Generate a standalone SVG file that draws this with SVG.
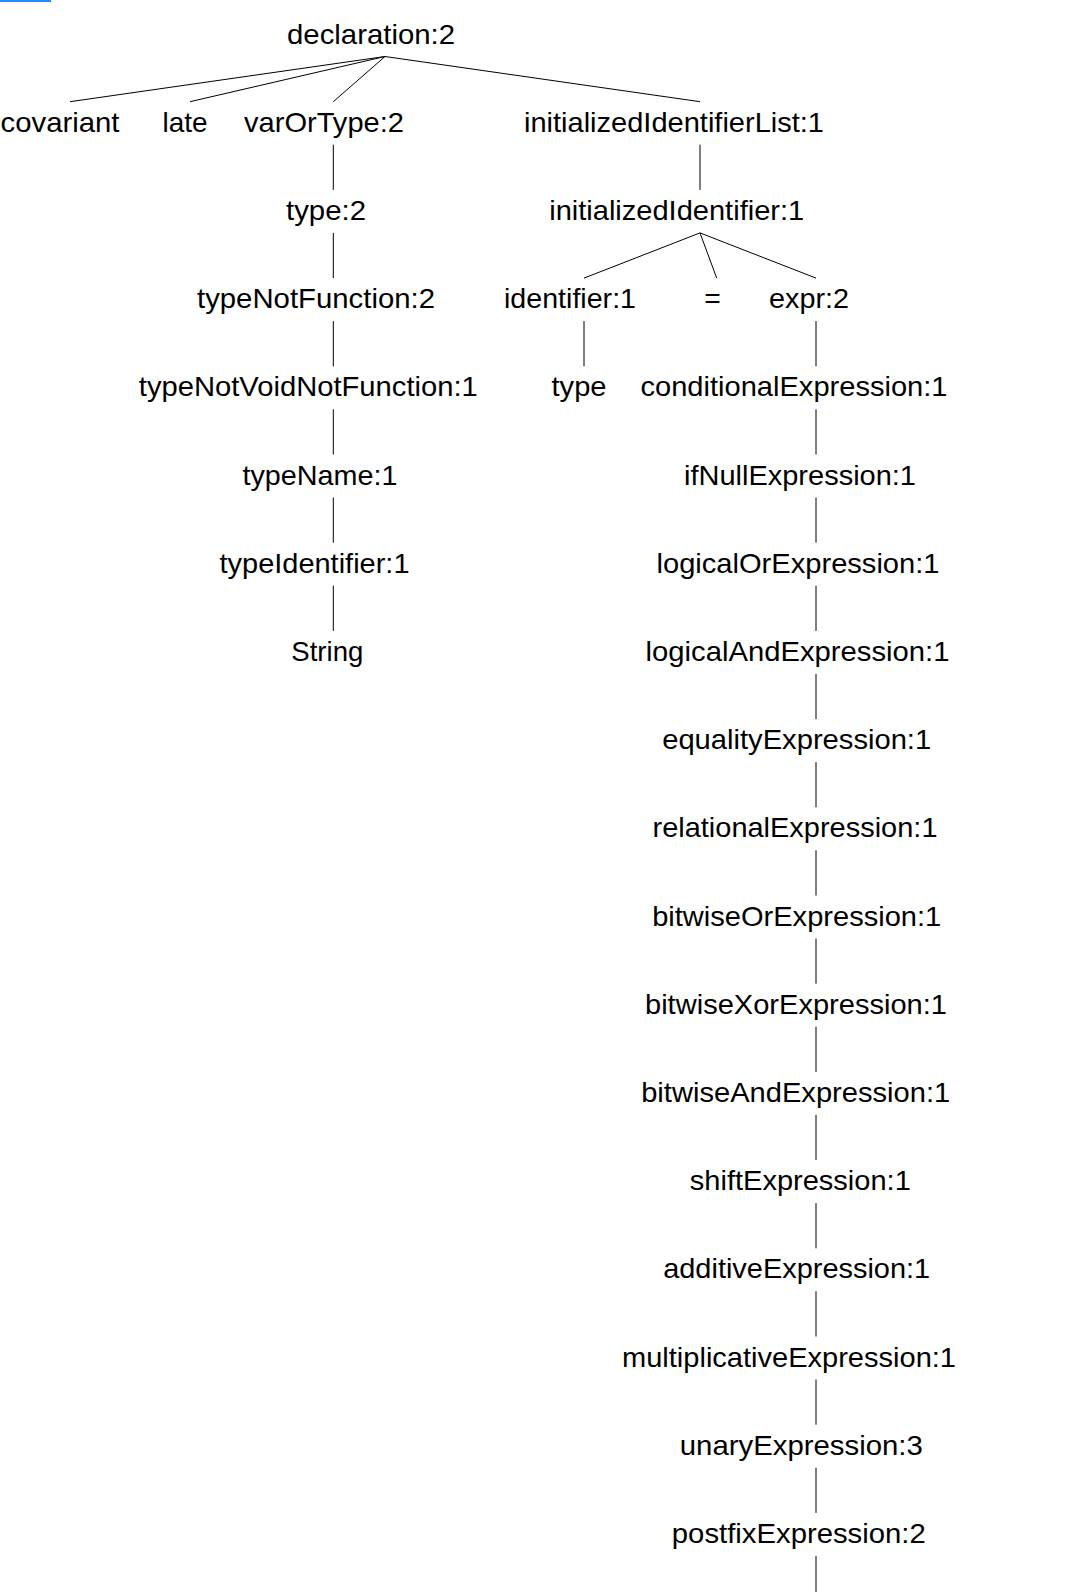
<svg xmlns="http://www.w3.org/2000/svg" width="1072" height="1592" viewBox="0 0 1072 1592">
<style>
text{font-family:"Liberation Sans",Arial,Helvetica,sans-serif;font-size:28.3px;fill:#000;text-anchor:middle}
.e line{stroke:#000;stroke-width:1}
</style>
<rect x="0" y="0" width="1072" height="1592" fill="#fff"/>
<rect x="0" y="0" width="51" height="2" fill="#1e8cff"/>
<g class="e" id="connectors">
<line x1="385" y1="56.5" x2="70" y2="101.7"/>
<line x1="385" y1="56.5" x2="190" y2="101.7"/>
<line x1="385" y1="56.5" x2="333.3" y2="101.7"/>
<line x1="385" y1="56.5" x2="700" y2="101.7"/>
<line x1="333.3" y1="144.7" x2="333.3" y2="189.9"/>
<line x1="700" y1="144.7" x2="700" y2="189.9"/>
<line x1="333.3" y1="232.9" x2="333.3" y2="278.1"/>
<line x1="700" y1="232.9" x2="584" y2="278.1"/>
<line x1="700" y1="232.9" x2="716.7" y2="278.1"/>
<line x1="700" y1="232.9" x2="816" y2="278.1"/>
<line x1="333.3" y1="321.1" x2="333.3" y2="366.3"/>
<line x1="584" y1="321.1" x2="584" y2="366.3"/>
<line x1="816" y1="321.1" x2="816" y2="366.3"/>
<line x1="333.3" y1="409.3" x2="333.3" y2="454.5"/>
<line x1="816" y1="409.3" x2="816" y2="454.5"/>
<line x1="333.3" y1="497.5" x2="333.3" y2="542.7"/>
<line x1="816" y1="497.5" x2="816" y2="542.7"/>
<line x1="333.3" y1="585.7" x2="333.3" y2="630.9"/>
<line x1="816" y1="585.7" x2="816" y2="630.9"/>
<line x1="816" y1="673.9" x2="816" y2="719.1"/>
<line x1="816" y1="762.1" x2="816" y2="807.3"/>
<line x1="816" y1="850.3" x2="816" y2="895.5"/>
<line x1="816" y1="938.5" x2="816" y2="983.7"/>
<line x1="816" y1="1026.7" x2="816" y2="1071.9"/>
<line x1="816" y1="1114.9" x2="816" y2="1160.1"/>
<line x1="816" y1="1203.1" x2="816" y2="1248.3"/>
<line x1="816" y1="1291.3" x2="816" y2="1336.5"/>
<line x1="816" y1="1379.5" x2="816" y2="1424.7"/>
<line x1="816" y1="1467.7" x2="816" y2="1512.9"/>
<line x1="816" y1="1555.9" x2="816" y2="1592"/>
</g>
<g id="n-declaration"><text x="371" y="43.5" textLength="168" lengthAdjust="spacingAndGlyphs">declaration:2</text></g>
<g id="n-covariant"><text x="60" y="131.7" textLength="119" lengthAdjust="spacingAndGlyphs">covariant</text></g>
<g id="n-late"><text x="185" y="131.7" textLength="45" lengthAdjust="spacingAndGlyphs">late</text></g>
<g id="n-varOrType"><text x="324" y="131.7" textLength="160" lengthAdjust="spacingAndGlyphs">varOrType:2</text></g>
<g id="n-initializedIdentifierList"><text x="674" y="131.7" textLength="300" lengthAdjust="spacingAndGlyphs">initializedIdentifierList:1</text></g>
<g id="n-type2"><text x="326" y="219.9" textLength="80" lengthAdjust="spacingAndGlyphs">type:2</text></g>
<g id="n-initializedIdentifier"><text x="676.7" y="219.9" textLength="255" lengthAdjust="spacingAndGlyphs">initializedIdentifier:1</text></g>
<g id="n-typeNotFunction"><text x="316" y="308.1" textLength="238" lengthAdjust="spacingAndGlyphs">typeNotFunction:2</text></g>
<g id="n-identifier"><text x="570" y="308.1" textLength="132" lengthAdjust="spacingAndGlyphs">identifier:1</text></g>
<g id="n-eq"><text x="712.5" y="308.1">=</text></g>
<g id="n-expr"><text x="809" y="308.1" textLength="80" lengthAdjust="spacingAndGlyphs">expr:2</text></g>
<g id="n-typeNotVoidNotFunction"><text x="308.3" y="396.3" textLength="339" lengthAdjust="spacingAndGlyphs">typeNotVoidNotFunction:1</text></g>
<g id="n-type"><text x="579" y="396.3" textLength="55" lengthAdjust="spacingAndGlyphs">type</text></g>
<g id="n-conditionalExpression"><text x="794" y="396.3" textLength="307" lengthAdjust="spacingAndGlyphs">conditionalExpression:1</text></g>
<g id="n-typeName"><text x="320" y="484.5" textLength="155" lengthAdjust="spacingAndGlyphs">typeName:1</text></g>
<g id="n-ifNullExpression"><text x="800" y="484.5" textLength="232" lengthAdjust="spacingAndGlyphs">ifNullExpression:1</text></g>
<g id="n-typeIdentifier"><text x="314.5" y="572.7" textLength="190" lengthAdjust="spacingAndGlyphs">typeIdentifier:1</text></g>
<g id="n-logicalOrExpression"><text x="798" y="572.7" textLength="283" lengthAdjust="spacingAndGlyphs">logicalOrExpression:1</text></g>
<g id="n-String"><text x="327.3" y="660.9" textLength="72" lengthAdjust="spacingAndGlyphs">String</text></g>
<g id="n-logicalAndExpression"><text x="797.5" y="660.9" textLength="304" lengthAdjust="spacingAndGlyphs">logicalAndExpression:1</text></g>
<g id="n-equalityExpression"><text x="796.7" y="749.1" textLength="269" lengthAdjust="spacingAndGlyphs">equalityExpression:1</text></g>
<g id="n-relationalExpression"><text x="795" y="837.3" textLength="285" lengthAdjust="spacingAndGlyphs">relationalExpression:1</text></g>
<g id="n-bitwiseOrExpression"><text x="796.7" y="925.5" textLength="289" lengthAdjust="spacingAndGlyphs">bitwiseOrExpression:1</text></g>
<g id="n-bitwiseXorExpression"><text x="796" y="1013.7" textLength="302" lengthAdjust="spacingAndGlyphs">bitwiseXorExpression:1</text></g>
<g id="n-bitwiseAndExpression"><text x="795.7" y="1101.9" textLength="309" lengthAdjust="spacingAndGlyphs">bitwiseAndExpression:1</text></g>
<g id="n-shiftExpression"><text x="800.3" y="1190.1" textLength="221" lengthAdjust="spacingAndGlyphs">shiftExpression:1</text></g>
<g id="n-additiveExpression"><text x="796.7" y="1278.3" textLength="267" lengthAdjust="spacingAndGlyphs">additiveExpression:1</text></g>
<g id="n-multiplicativeExpression"><text x="789" y="1366.5" textLength="334" lengthAdjust="spacingAndGlyphs">multiplicativeExpression:1</text></g>
<g id="n-unaryExpression"><text x="801.3" y="1454.7" textLength="243" lengthAdjust="spacingAndGlyphs">unaryExpression:3</text></g>
<g id="n-postfixExpression"><text x="798.8" y="1542.9" textLength="254" lengthAdjust="spacingAndGlyphs">postfixExpression:2</text></g>
</svg>
